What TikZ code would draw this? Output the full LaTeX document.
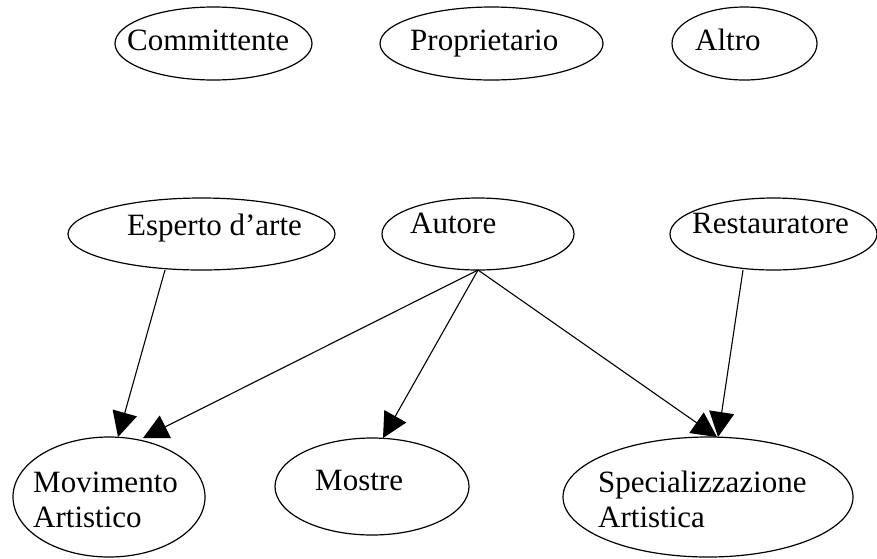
\documentclass[tikz,border=0pt]{standalone}
\usepackage{fontspec}
\setmainfont{Liberation Serif}
\usetikzlibrary{arrows.meta,shapes.geometric,calc}
\begin{document}
\begin{tikzpicture}[x=1pt,y=-1pt,
  entity/.style n args={2}{draw, ellipse, line width=1.2pt, inner sep=0pt,
    outer sep=0pt, minimum width=#1, minimum height=#2},
  lbl/.style={anchor=base west, inner sep=0pt, align=left,
    font=\fontsize{31}{35}\selectfont},
  link/.style={line width=1.1pt, -{Triangle[length=25pt,width=25pt]}}]

  % canvas
  \path[use as bounding box, fill=white] (0,0) rectangle (877,558);

  % top row
  \node[entity={197}{73}] (committente) at (213.5,43.5) {};
  \node[entity={223}{73}] (proprietario) at (491.5,43.5) {};
  \node[entity={145}{73}] (altro) at (744.5,43.5) {};
  \node[lbl] (committente-t) at (127,50) {Committente};
  \node[lbl] (proprietario-t) at (410,50) {Proprietario};
  \node[lbl] (altro-t) at (695,50) {Altro};

  % middle row
  \node[entity={267}{72}] (esperto) at (201.5,234) {};
  \node[entity={192}{72}] (autore) at (478,234) {};
  \node[entity={207}{72}] (restauratore) at (773.5,234) {};
  \node[lbl] (esperto-t) at (127,235) {Esperto d’arte};
  \node[lbl] (autore-t) at (410,233) {Autore};
  \node[lbl] (restauratore-t) at (692,233) {Restauratore};

  % bottom row (two-line labels are anchored on their last baseline)
  \node[entity={192}{120}] (movimento) at (109,497) {};
  \node[entity={194}{97}] (mostre) at (372,486.5) {};
  \node[entity={290}{120}] (special) at (708,497) {};
  \node[lbl] (movimento-t) at (33,527) {Movimento\\Artistico};
  \node[lbl] (mostre-t) at (315,490) {Mostre};
  \node[lbl] (special-t) at (598,527) {Specializzazione\\Artistica};

  % connectors
  \draw[link] ($(esperto.south)+(-36.5,0)$) -- ($(movimento.north)+(9,0)$);
  \draw[link] (autore.south) -- ($(movimento.north)+(34,1)$);
  \draw[link] (autore.south) -- ($(mostre.north)+(11,0)$);
  \draw[link] (autore.south) -- ($(special.north)+(9,0)$);
  \draw[link] ($(restauratore.south)+(-30.5,0)$) -- ($(special.north)+(10,0)$);
\end{tikzpicture}
\end{document}
